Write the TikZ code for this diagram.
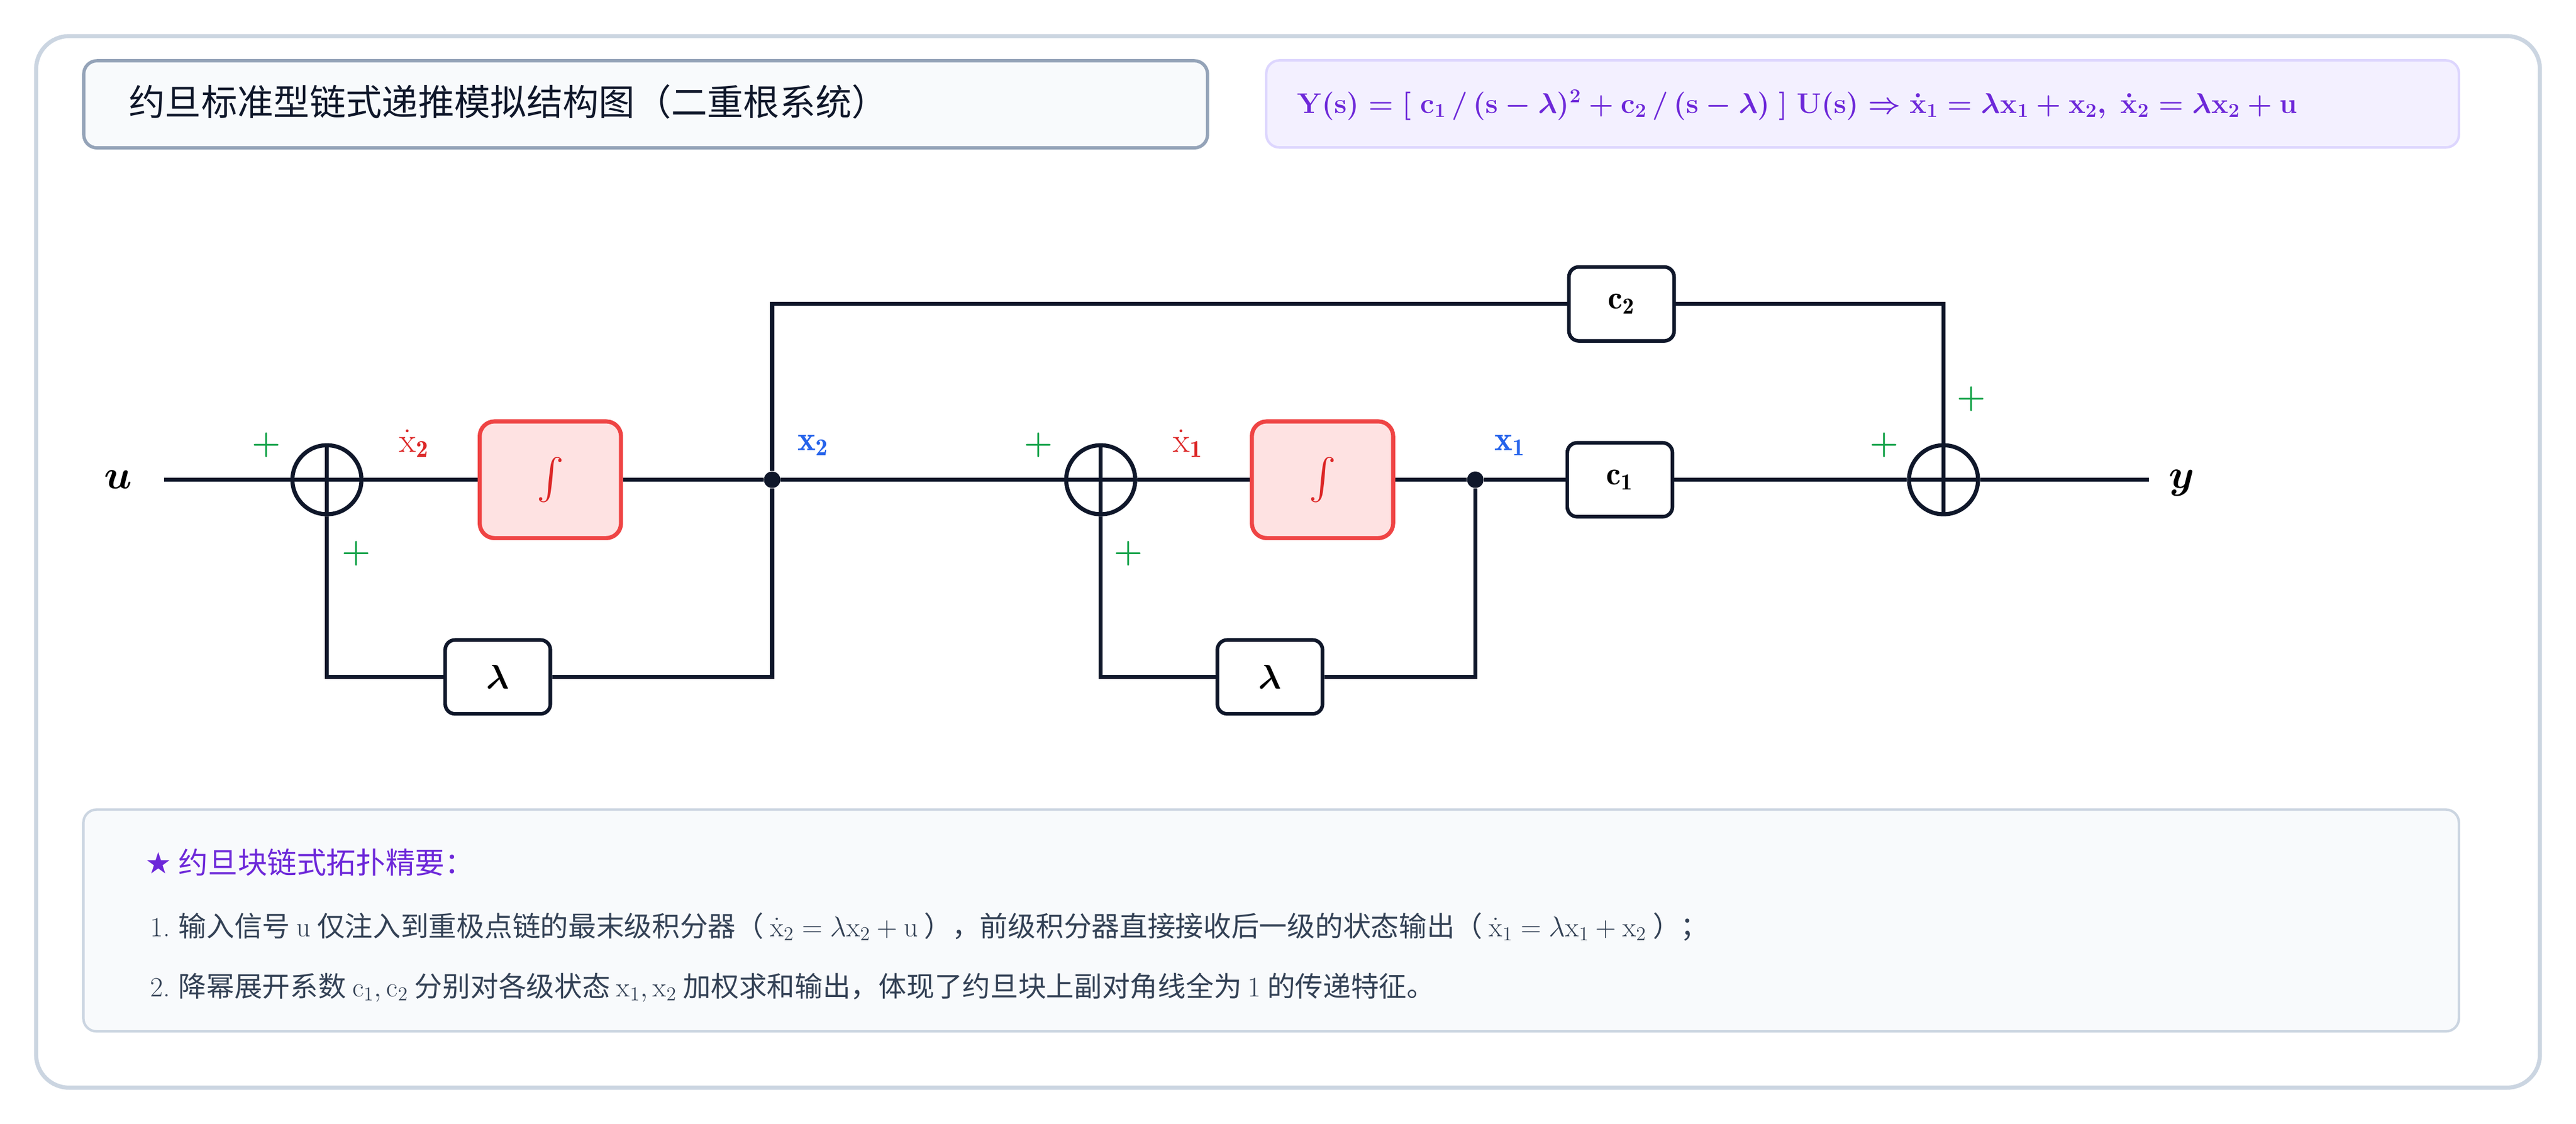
\documentclass[tikz,border=0pt]{standalone}
\usepackage{fontspec}
\usepackage{amsmath}
\newfontfamily\cjk{Noto Sans CJK SC}
\newfontfamily\dejavu{DejaVu Sans}
\definecolor{ln}{HTML}{0F172A}
\definecolor{grn}{HTML}{16A34A}
\definecolor{rd}{HTML}{DC2626}
\definecolor{bl}{HTML}{2563EB}
\definecolor{pur}{HTML}{6D28D9}
\definecolor{txt}{HTML}{334155}
\definecolor{outerc}{HTML}{CBD5E1}
\definecolor{tstroke}{HTML}{94A3B8}
\definecolor{lightbg}{HTML}{F8FAFC}
\definecolor{fbg}{HTML}{F3F0FF}
\definecolor{fstroke}{HTML}{DDD6FE}
\definecolor{ifill}{HTML}{FEE2E2}
\definecolor{istroke}{HTML}{EF4444}
\newsavebox\myformbox
\tikzset{
 wire/.style={draw=ln,line width=2.5pt},
 sum/.style={circle,draw=ln,line width=2.5pt,fill=white,minimum size=42pt,inner sep=0pt,
   path picture={\draw[ln,line width=2.5pt] (path picture bounding box.north) -- (path picture bounding box.south) (path picture bounding box.west) -- (path picture bounding box.east);}},
 integ/.style={rectangle,rounded corners=9pt,draw=istroke,fill=ifill,line width=2.5pt,minimum width=86pt,minimum height=71pt,text=rd,font=\fontsize{34}{36}\selectfont},
 gain/.style={rectangle,rounded corners=6pt,draw=ln,fill=white,line width=2.2pt,minimum width=64pt,minimum height=45pt,font=\fontsize{20}{22}\selectfont},
 dot/.style={circle,fill=ln,inner sep=0pt,minimum size=10pt},
 pl/.style={text=grn,font=\bfseries\fontsize{20}{22}\selectfont},
 slab/.style={font=\fontsize{21}{23}\selectfont},
 notet/.style={anchor=west,text=txt,font=\cjk\fontsize{17}{20}\selectfont},
}
\begin{document}
\sbox\myformbox{\fontsize{18}{20}\selectfont\color{pur}\boldmath$\mathbf{Y(s) = \lbrack\ c_1\,/\,(s-\lambda)^2 + c_2\,/\,(s-\lambda)\ \rbrack\ U(s)} \Rightarrow \dot{\mathbf{x}}_1 = \lambda\mathbf{x}_1 + \mathbf{x}_2,\ \dot{\mathbf{x}}_2=\lambda\mathbf{x}_2+\mathbf{u}$}%
\begin{tikzpicture}[x=1pt,y=-1pt]
\useasboundingbox (0,0) rectangle (1568,684);
\draw[draw=outerc,line width=2.5pt,rounded corners=20pt,fill=white] (22,22) rectangle (1546,662);
\node[draw=tstroke,fill=lightbg,line width=2pt,rounded corners=8pt,minimum width=684pt,minimum height=53pt,anchor=north west] (title) at (50,36) {};
\node[anchor=west,font=\cjk\fontsize{22}{24}\selectfont,text=ln] (titlet) at (75,62) {约旦标准型链式递推模拟结构图（二重根系统）};
\node[draw=fstroke,fill=fbg,line width=1.5pt,rounded corners=8pt,minimum width=726pt,minimum height=53pt,anchor=north west] (formb) at (770,36) {};
\node[anchor=west] (formt) at (786,64) {\usebox\myformbox};

% main path
\node[font=\fontsize{26}{28}\selectfont] (u) at (72,292) {$\boldsymbol{u}$};
\coordinate (uin) at (100,292);
\node[sum] (s1) at (199,292) {};
\node[integ] (i1) at (335,292) {$\int$};
\node[dot] (j2) at (470,292) {};
\node[sum] (s2) at (670,292) {};
\node[integ] (i2) at (805,292) {$\int$};
\node[dot] (j1) at (898,292) {};
\node[gain] (c1) at (986,292) {$\mathbf{c_1}$};
\node[sum] (s3) at (1183,292) {};
\coordinate (yout) at (1308,292);
\node[font=\fontsize{26}{28}\selectfont] (y) at (1328,294) {$\boldsymbol{y}$};
\node[gain] (l1) at (303,412) {$\boldsymbol{\lambda}$};
\node[gain] (l2) at (773,412) {$\boldsymbol{\lambda}$};
\node[gain] (c2) at (987,185) {$\mathbf{c_2}$};

\draw[wire] (uin) -- (s1) -- (i1) -- (j2) -- (s2) -- (i2) -- (j1) -- (c1) -- (s3) -- (yout);
\draw[wire] (j2) |- (l1) -| (s1);
\draw[wire] (j1) |- (l2) -| (s2);
\draw[wire] (j2) |- (c2) -| (s3);

% labels
\node[pl] (p1) at (162,271) {+};
\node[pl] (p2) at (217,337) {+};
\node[pl] (p3) at (632,271) {+};
\node[pl] (p4) at (687,337) {+};
\node[pl] (p5) at (1147,271) {+};
\node[pl] (p6) at (1200,243) {+};
\node[slab,text=rd] (dx2) at (252,270) {$\dot{\mathrm{x}}_{\mathbf 2}$};
\node[slab,text=rd] (dx1) at (723,270) {$\dot{\mathrm{x}}_{\mathbf 1}$};
\node[slab,text=bl] (x2) at (495,271) {$\mathbf{x_2}$};
\node[slab,text=bl] (x1) at (919,271) {$\mathbf{x_1}$};

% note box
\node[draw=outerc,fill=lightbg,line width=1.5pt,rounded corners=8pt,minimum width=1446pt,minimum height=135pt,anchor=north west] (note) at (50,492) {};
\node[anchor=west,text=pur,font=\cjk\fontsize{18}{21}\selectfont] (nh) at (85,525) {{\dejavu ★} 约旦块链式拓扑精要：};
\node[notet] (n1) at (88,564) {{\rmfamily 1.} 输入信号 $\mathrm{u}$ 仅注入到重极点链的最末级积分器（ $\dot{\mathrm{x}}_2=\lambda\mathrm{x}_2+\mathrm{u}$ ），前级积分器直接接收后一级的状态输出（ $\dot{\mathrm{x}}_1=\lambda\mathrm{x}_1+\mathrm{x}_2$ ）；};
\node[notet] (n2) at (88,601) {{\rmfamily 2.} 降幂展开系数 $\mathrm{c}_1,\mathrm{c}_2$ 分别对各级状态 $\mathrm{x}_1,\mathrm{x}_2$ 加权求和输出，体现了约旦块上副对角线全为 $1$ 的传递特征。};
\end{tikzpicture}
\end{document}
